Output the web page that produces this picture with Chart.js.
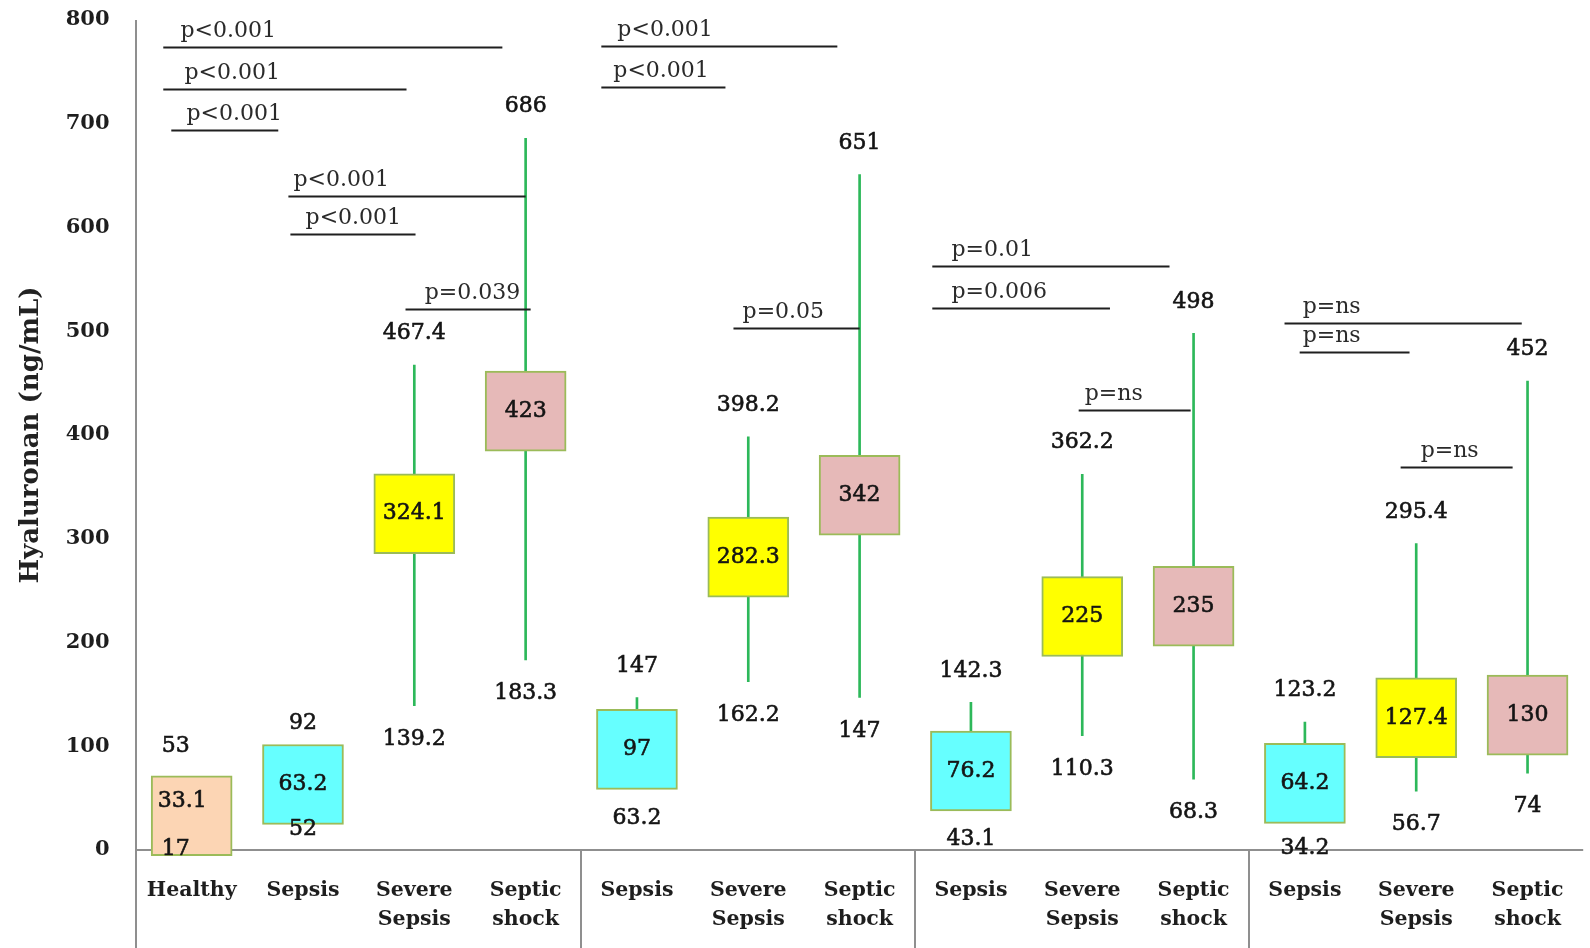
<!DOCTYPE html>
<html>
<head>
<meta charset="utf-8">
<script src="https://cdn.jsdelivr.net/npm/chart.js@4.4.1/dist/chart.umd.min.js"></script>
<style>
  html, body { margin: 0; padding: 0; background: #ffffff; }
  #wrap { width: 1590px; height: 948px; }
</style>
</head>
<body>
<div id="wrap"><canvas id="c" width="1590" height="948"></canvas></div>
<script>
// Hyaluronan levels per patient group: median (box), minimum and maximum (whisker ends)
const CATEGORIES = [
  ['Healthy'], ['Sepsis'], ['Severe', 'Sepsis'], ['Septic', 'shock'],
  ['Sepsis'], ['Severe', 'Sepsis'], ['Septic', 'shock'],
  ['Sepsis'], ['Severe', 'Sepsis'], ['Septic', 'shock'],
  ['Sepsis'], ['Severe', 'Sepsis'], ['Septic', 'shock']
];
const GROUP_KIND = ['healthy', 'sepsis', 'severe', 'shock',
  'sepsis', 'severe', 'shock',
  'sepsis', 'severe', 'shock',
  'sepsis', 'severe', 'shock'];
const MEDIANS = [33.1, 63.2, 324.1, 423, 97, 282.3, 342, 76.2, 225, 235, 64.2, 127.4, 130];
const MAXIMA  = [53, 92, 467.4, 686, 147, 398.2, 651, 142.3, 362.2, 498, 123.2, 295.4, 452];
const MINIMA  = [17, 52, 139.2, 183.3, 63.2, 162.2, 147, 43.1, 110.3, 68.3, 34.2, 56.7, 74];

// Value axis
const Y_MIN = 0;
const Y_MAX = 800;
const Y_STEP = 100;

// Pairwise comparisons: label, bar level (ng/mL), bar span and label start (category units)
const P_TEXT  = ['p<0.001', 'p<0.001', 'p<0.001', 'p<0.001', 'p<0.001', 'p=0.039',
                 'p<0.001', 'p<0.001', 'p=0.05',
                 'p=0.01', 'p=0.006', 'p=ns',
                 'p=ns', 'p=ns', 'p=ns'];
const P_LEVEL = [774, 733.5, 694.4, 630.8, 593.6, 521.3,
                 774.6, 735.5, 502.7,
                 563.3, 522.2, 424.4,
                 507.6, 480.2, 368.7];
const P_FROM  = [-0.255, -0.255, -0.183, 0.869, 0.887, 1.921,
                 3.68, 3.68, 4.867,
                 6.653, 6.653, 7.968,
                 9.817, 9.953, 10.86];
const P_TO    = [2.791, 1.93, 0.778, 3.0, 2.011, 3.045,
                 5.80, 4.795, 6.0,
                 8.784, 8.249, 8.974,
                 11.948, 10.94, 11.866];
const P_TEXT_AT = [-0.101, -0.065, -0.047, 0.914, 1.023, 2.093,
                   3.824, 3.788, 4.949,
                   6.825, 6.825, 8.022,
                   9.98, 9.98, 11.04];

// Styling
const SERIF = "'DejaVu Serif', 'Liberation Serif', serif";
const FILL = { healthy: '#fcd5b4', sepsis: '#66ffff', severe: '#ffff00', shock: '#e6b9b8' };
const BOX_EDGE = '#9bbb59';
const WHISKER = '#2db85a';
const AXIS = '#8f8f8f';
const BOX_HALF = 38.5;          // half box height around the median, in ng/mL
const LABEL_ABOVE = -31.5;      // px from whisker top to max label centre
const LABEL_BELOW = 33.5;       // px from whisker bottom to min label centre
// the Healthy labels sit inside their box, nudged clear of each other
const NUDGE = { 0: { dx: -16, dxMid: -9.5, mid: -14, hi: -48.3, lo: 16.6 } };

const whiskerData = MINIMA.map((lo, i) => [lo, MAXIMA[i]]);
const boxData = MEDIANS.map(m => [m - BOX_HALF, m + BOX_HALF]);

function label(ctx, text, x, y) {
  ctx.strokeText(text, x, y);
  ctx.fillText(text, x, y);
}

const overlay = {
  id: 'overlay',
  beforeDatasetsDraw(chart) {
    const { ctx, chartArea, scales: { x, y } } = chart;
    const H = chart.height;
    const y0 = y.getPixelForValue(Y_MIN);
    ctx.save();
    ctx.strokeStyle = AXIS;
    ctx.lineWidth = 2;
    ctx.beginPath();
    ctx.moveTo(chartArea.left, y.getPixelForValue(Y_MAX));
    ctx.lineTo(chartArea.left, H);
    ctx.moveTo(chartArea.left, y0);
    ctx.lineTo(chartArea.right, y0);
    [3.5, 6.5, 9.5].forEach(b => {
      const px = Math.round(x.getPixelForValue(b));
      ctx.moveTo(px, y0);
      ctx.lineTo(px, H);
    });
    ctx.stroke();
    ctx.restore();
  },
  afterDatasetsDraw(chart) {
    const { ctx, scales: { x, y } } = chart;
    ctx.save();
    // value labels
    ctx.font = '22px ' + SERIF;
    ctx.fillStyle = '#141414';
    ctx.strokeStyle = '#141414';
    ctx.lineWidth = 0.6;
    ctx.textAlign = 'center';
    ctx.textBaseline = 'middle';
    MEDIANS.forEach((m, i) => {
      const n = NUDGE[i] || {};
      const cx = x.getPixelForValue(i);
      label(ctx, String(m), cx + (n.dxMid || 0), y.getPixelForValue(m) + (n.mid || 0));
      label(ctx, String(MAXIMA[i]), cx + (n.dx || 0),
        y.getPixelForValue(MAXIMA[i]) + (n.hi !== undefined ? n.hi : LABEL_ABOVE));
      label(ctx, String(MINIMA[i]), cx + (n.dx || 0),
        y.getPixelForValue(MINIMA[i]) + (n.lo !== undefined ? n.lo : LABEL_BELOW));
    });
    // comparison bars
    ctx.strokeStyle = '#1f1f1f';
    ctx.lineWidth = 2;
    ctx.fillStyle = '#2a2a2a';
    ctx.textAlign = 'left';
    P_TEXT.forEach((t, i) => {
      const py = Math.round(y.getPixelForValue(P_LEVEL[i])) + 0.5;
      ctx.beginPath();
      ctx.moveTo(x.getPixelForValue(P_FROM[i]), py);
      ctx.lineTo(x.getPixelForValue(P_TO[i]), py);
      ctx.stroke();
      ctx.fillText(t, x.getPixelForValue(P_TEXT_AT[i]), py - 16);
    });
    ctx.restore();
  }
};

new Chart(document.getElementById('c'), {
  type: 'bar',
  data: {
    labels: CATEGORIES,
    datasets: [
      {
        label: 'range',
        data: whiskerData,
        backgroundColor: WHISKER,
        borderWidth: 0,
        barThickness: 2,
        grouped: false,
        order: 2
      },
      {
        label: 'median',
        data: boxData,
        backgroundColor: GROUP_KIND.map(k => FILL[k]),
        borderColor: BOX_EDGE,
        borderWidth: 2,
        borderSkipped: false,
        barThickness: 81,
        grouped: false,
        clip: false,
        order: 1
      }
    ]
  },
  options: {
    responsive: false,
    animation: false,
    devicePixelRatio: 1,
    layout: { padding: { top: 20, right: 0, bottom: 0, left: 0 } },
    plugins: { legend: { display: false }, tooltip: { enabled: false } },
    scales: {
      x: {
        offset: true,
        grid: { display: false, drawTicks: false },
        border: { display: false },
        ticks: {
          color: '#1e1e1e',
          font: { family: SERIF, size: 20.5, weight: 'bold', lineHeight: 1.4 },
          padding: 26.5,
          maxRotation: 0,
          autoSkip: false
        },
        afterFit(scale) { scale.height = 98; }
      },
      y: {
        min: Y_MIN,
        max: Y_MAX,
        grid: { display: false, drawTicks: false },
        border: { display: false },
        ticks: {
          stepSize: Y_STEP,
          color: '#1e1e1e',
          font: { family: SERIF, size: 21, weight: 'bold' },
          padding: 26.5
        },
        title: {
          display: true,
          text: 'Hyaluronan (ng/mL)',
          color: '#222222',
          font: { family: SERIF, size: 26, weight: 'bold' },
          padding: { top: 16, bottom: 0 }
        },
        afterFit(scale) {
          scale.width = 136;
          scale.paddingTop = 0;
          scale.paddingBottom = 0;
        }
      }
    }
  },
  plugins: [overlay]
});
</script>
</body>
</html>
